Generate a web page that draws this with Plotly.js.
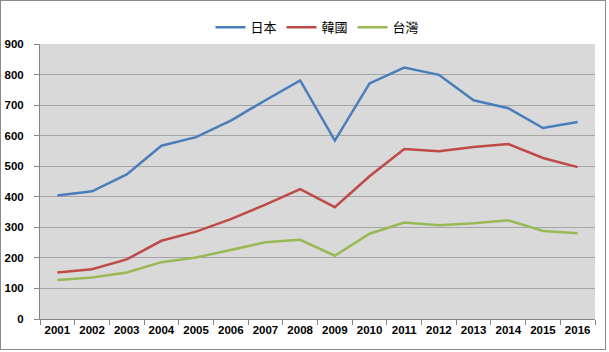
<!DOCTYPE html>
<html>
<head>
<meta charset="utf-8">
<script src="https://cdn.plot.ly/plotly-3.0.1.min.js"></script>
<style>
  html, body { margin: 0; padding: 0; background: #ffffff; }
  #wrap { position: relative; width: 609px; height: 352px; }
  #chart { position: absolute; left: 0; top: 0; width: 609px; height: 352px; }
  #frame { position: absolute; left: 0; top: 0; width: 604px; height: 348px; border: 1px solid #8a8a8a; pointer-events: none; }
</style>
</head>
<body>
<div id="wrap">
  <div id="chart"></div>
  <div id="frame"></div>
</div>
<script>
const years = ['2001','2002','2003','2004','2005','2006','2007','2008','2009','2010','2011','2012','2013','2014','2015','2016'];
const seriesNames = ['日本', '韓國', '台灣'];
const japan  = [404, 418, 473, 567, 595, 649, 716, 781, 584, 771, 823, 799, 716, 690, 625, 645];
const korea  = [152, 163, 195, 256, 286, 327, 374, 425, 366, 467, 556, 549, 563, 573, 527, 497];
const taiwan = [128, 136, 152, 186, 201, 226, 251, 259, 207, 279, 316, 307, 313, 323, 288, 281];
const yTicks = [0, 100, 200, 300, 400, 500, 600, 700, 800, 900];
const colors = ['#4a7ebb', '#be4b48', '#98b954'];

const allSeries = [japan, korea, taiwan];
const traces = allSeries.map((vals, i) => ({
  type: 'scatter',
  mode: 'lines',
  x: years,
  y: vals,
  name: seriesNames[i],
  line: { color: colors[i], width: 2.5 },
  hoverinfo: 'skip'
}));

const tickFont = { family: '"Liberation Sans", Arial, sans-serif', size: 11.5, color: '#000000', weight: 'bold' };

const layout = {
  width: 609,
  height: 352,
  margin: { l: 40, r: 14, t: 44, b: 33 },
  paper_bgcolor: '#ffffff',
  plot_bgcolor: '#d9d9d9',
  showlegend: true,
  legend: {
    orientation: 'h',
    x: 0.5, xanchor: 'center',
    y: 0.965, yref: 'container', yanchor: 'top',
    font: { family: '"Noto Sans CJK TC", "Noto Sans", sans-serif', size: 13, color: '#000000' },
    itemwidth: 30,
    tracegroupgap: 0,
    traceorder: 'normal'
  },
  xaxis: {
    type: 'category',
    range: [-0.5, 15.5],
    tickson: 'boundaries',
    tickangle: 0,
    ticks: 'outside',
    ticklen: 5,
    tickcolor: '#868686',
    showline: true,
    linecolor: '#868686',
    linewidth: 1,
    showgrid: false,
    tickfont: tickFont,
    fixedrange: true
  },
  yaxis: {
    range: [0, 900],
    tickvals: yTicks,
    ticktext: yTicks.map(String),
    ticks: 'outside',
    ticklen: 5,
    tickcolor: '#868686',
    showline: true,
    linecolor: '#868686',
    linewidth: 1,
    showgrid: true,
    gridcolor: '#a6a6a6',
    gridwidth: 1,
    zeroline: false,
    ticklabelstandoff: 8,
    tickfont: tickFont,
    fixedrange: true
  }
};

Plotly.newPlot('chart', traces, layout, { staticPlot: true, displayModeBar: false });
</script>
</body>
</html>
